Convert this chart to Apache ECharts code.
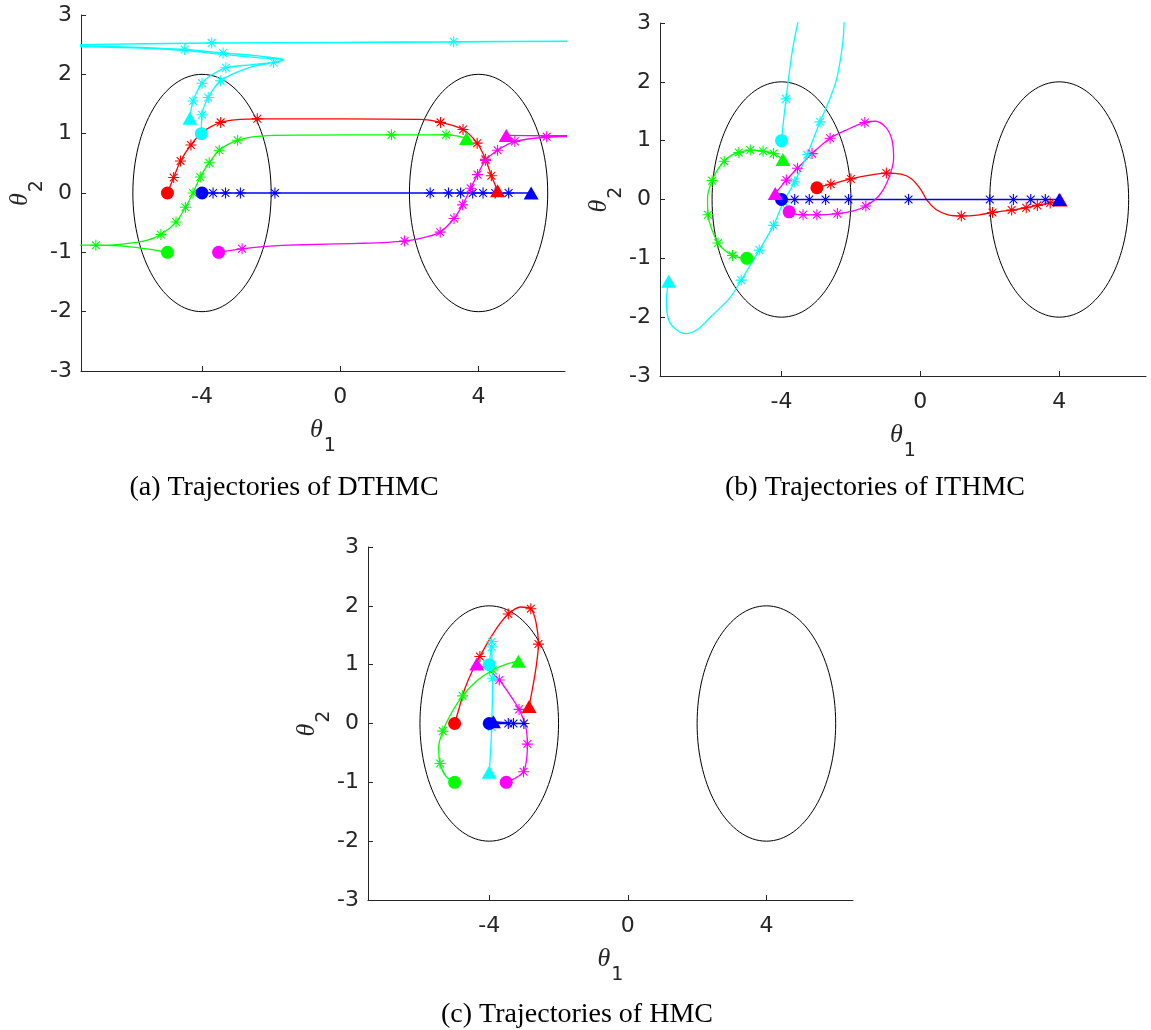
<!DOCTYPE html>
<html>
<head>
<meta charset="utf-8">
<script src="https://cdn.jsdelivr.net/npm/echarts@6/dist/echarts.min.js"></script>
<style>
html,body{margin:0;padding:0;background:#fff;}
#chart{width:1151px;height:1030px;}
</style>
</head>
<body>
<div id="chart"></div>
<script>
// ---------- axes ----------
const X_RANGE = [-7.5, 6.5];
const Y_RANGE = [-3, 3];
const X_TICKS = [-4, 0, 4];
const CAPTIONS = ['(a) Trajectories of DTHMC', '(b) Trajectories of ITHMC', '(c) Trajectories of HMC'];
// two target modes: [centre x, centre y, radius x, radius y]
const MODES = [[-4, 0, 2, 2], [4, 0, 2, 2]];

// ---------- (a) DTHMC ----------
const A_BLUE_PATH = [[-4,0],[5.52,0]];
const A_BLUE_STARS = [[-3.68,0],[-3.32,0],[-2.89,0],[-1.89,0],[2.6,0],[3.13,0],[3.48,0],[3.83,0],[4.13,0],[4.48,0],[4.87,0]];
const A_RED_PATH = [[-5,0],[-4.82,0.26],[-4.62,0.54],[-4.32,0.81],[-4.0,1.02],[-3.46,1.19],[-2.9,1.24],[-2.4,1.25],[0,1.25],[2.3,1.24],[2.9,1.19],[3.55,1.07],[3.96,0.84],[4.2,0.57],[4.37,0.29],[4.55,0.04]];
const A_RED_STARS = [[-4.82,0.26],[-4.62,0.54],[-4.32,0.81],[-3.46,1.19],[-2.4,1.25],[2.9,1.19],[3.55,1.07],[3.96,0.84],[4.2,0.57],[4.37,0.29]];
const A_GREEN_PATH = [[-5,-1],[-5.5,-0.95],[-6.2,-0.9],[-7.07,-0.88],[-8.2,-0.875],[-9,-0.87],[-8.2,-0.878],[-7.07,-0.88],[-6.3,-0.86],[-5.6,-0.8],[-5.19,-0.7],[-4.75,-0.49],[-4.48,-0.24],[-4.26,0],[-4.05,0.27],[-3.79,0.51],[-3.5,0.72],[-2.97,0.89],[-2.3,0.96],[-1,0.975],[1.48,0.98],[3.06,0.98],[3.4,0.96],[3.65,0.92]];
const A_GREEN_STARS = [[-7.07,-0.88],[-5.19,-0.7],[-4.75,-0.49],[-4.48,-0.24],[-4.26,0],[-4.05,0.27],[-3.79,0.51],[-3.5,0.72],[-2.97,0.89],[1.48,0.98],[3.06,0.98]];
const A_MAGENTA_PATH = [[-3.52,-1],[-2.84,-0.94],[-1.5,-0.88],[0.5,-0.85],[1.86,-0.81],[2.5,-0.74],[2.89,-0.66],[3.29,-0.43],[3.54,-0.2],[3.77,0.08],[3.97,0.31],[4.2,0.55],[4.55,0.72],[5.05,0.87],[5.97,0.94],[7.2,0.955],[8.5,0.96],[7.2,0.965],[5.8,0.965],[4.8,0.97]];
const A_MAGENTA_STARS = [[-2.84,-0.94],[1.86,-0.81],[2.89,-0.66],[3.29,-0.43],[3.54,-0.2],[3.77,0.08],[3.97,0.31],[4.2,0.55],[4.55,0.72],[5.05,0.87],[5.97,0.95]];
const A_CYAN_PATH = [[-4.02,1.0],[-4.0,1.32],[-3.82,1.61],[-3.46,1.89],[-2.7,2.1],[-1.93,2.2],[-1.64,2.25],[-2.4,2.31],[-3.39,2.36],[-4.5,2.42],[-6,2.46],[-7.5,2.48],[-9,2.49],[-7.5,2.5],[-3.72,2.53],[0,2.54],[3.28,2.55],[6.5,2.56],[9,2.56],[6.5,2.555],[3.28,2.545],[0,2.535],[-3.72,2.525],[-7.5,2.5],[-9,2.48],[-7.5,2.465],[-6,2.445],[-4.5,2.4],[-3.39,2.335],[-2.4,2.28],[-1.64,2.24],[-1.93,2.2],[-2.6,2.16],[-3.31,2.11],[-3.75,1.98],[-4.0,1.85],[-4.26,1.55],[-4.35,1.26]];
const A_CYAN_STARS = [[-4.0,1.32],[-3.82,1.61],[-3.46,1.89],[-1.93,2.2],[-3.39,2.36],[-4.5,2.42],[-3.72,2.53],[3.28,2.55],[-3.31,2.11],[-4.0,1.85],[-4.26,1.55]];

// ---------- (b) ITHMC ----------
const B_BLUE_PATH = [[-4,0],[4,0]];
const B_BLUE_STARS = [[-3.62,0],[-3.2,0],[-2.73,0],[-2.07,0],[-0.34,0],[2.0,0],[2.68,0],[3.18,0],[3.6,0]];
const B_RED_PATH = [[-2.98,0.2],[-2.58,0.26],[-2.0,0.35],[-1.5,0.41],[-0.98,0.45],[-0.55,0.43],[-0.25,0.35],[0,0.18],[0.2,-0.02],[0.45,-0.17],[0.8,-0.26],[1.18,-0.28],[1.7,-0.26],[2.08,-0.22],[2.63,-0.18],[3.05,-0.14],[3.37,-0.1],[3.74,-0.06],[4.03,-0.01]];
const B_RED_STARS = [[-2.58,0.26],[-2.0,0.35],[-0.98,0.45],[1.18,-0.28],[2.08,-0.22],[2.63,-0.18],[3.05,-0.14],[3.37,-0.1],[3.74,-0.06]];
const B_GREEN_PATH = [[-5,-1],[-5.2,-0.99],[-5.41,-0.95],[-5.65,-0.86],[-5.83,-0.74],[-6.0,-0.52],[-6.12,-0.26],[-6.13,0.04],[-6.0,0.32],[-5.85,0.5],[-5.65,0.65],[-5.45,0.75],[-5.23,0.8],[-4.9,0.84],[-4.53,0.82],[-4.23,0.78],[-3.96,0.68]];
const B_GREEN_STARS = [[-5.41,-0.95],[-5.83,-0.74],[-6.12,-0.26],[-6.0,0.32],[-5.65,0.65],[-5.23,0.8],[-4.9,0.84],[-4.53,0.82],[-4.23,0.78]];
const B_MAGENTA_PATH = [[-3.78,-0.21],[-3.6,-0.25],[-3.38,-0.26],[-2.98,-0.26],[-2.39,-0.24],[-1.9,-0.19],[-1.57,-0.11],[-1.2,0.06],[-0.92,0.35],[-0.77,0.7],[-0.82,1.02],[-1.0,1.23],[-1.3,1.33],[-1.6,1.31],[-2.1,1.19],[-2.6,1.04],[-3.12,0.78],[-3.54,0.53],[-3.86,0.33],[-4.18,0.1]];
const B_MAGENTA_STARS = [[-3.38,-0.26],[-2.98,-0.26],[-2.39,-0.24],[-1.57,-0.11],[-1.6,1.31],[-2.6,1.04],[-3.12,0.78],[-3.54,0.53],[-3.86,0.33]];
const B_CYAN_PATH = [[-4,1],[-3.94,1.35],[-3.87,1.71],[-3.79,2.09],[-3.68,2.55],[-3.53,3.0],[-3.3,3.5],[-2.9,3.85],[-2.45,3.8],[-2.23,3.4],[-2.2,3.0],[-2.26,2.55],[-2.42,2.03],[-2.65,1.65],[-2.89,1.32],[-3.26,0.76],[-3.62,0.3],[-3.94,-0.04],[-4.23,-0.44],[-4.64,-0.86],[-5.16,-1.37],[-5.5,-1.68],[-6.05,-2.0],[-6.4,-2.2],[-6.77,-2.28],[-7.2,-2.11],[-7.32,-1.72],[-7.25,-1.39]];
const B_CYAN_STARS = [[-3.87,1.71],[-2.89,1.32],[-3.26,0.76],[-3.62,0.3],[-3.94,-0.04],[-4.23,-0.44],[-4.64,-0.86],[-5.16,-1.37]];

// ---------- (c) HMC ----------
const C_BLUE_PATH = [[-4,0],[-3.45,0],[-2.92,0],[-3.4,0.01],[-3.88,0.03]];
const C_BLUE_STARS = [[-3.45,0],[-3.3,0],[-3.0,0]];
const C_RED_PATH = [[-5,0],[-4.85,0.3],[-4.7,0.6],[-4.5,0.88],[-4.27,1.14],[-4.02,1.4],[-3.75,1.65],[-3.45,1.86],[-3.1,1.98],[-2.8,1.95],[-2.65,1.72],[-2.58,1.35],[-2.65,0.95],[-2.75,0.6],[-2.85,0.29]];
const C_RED_STARS = [[-4.27,1.14],[-3.45,1.86],[-2.8,1.95],[-2.58,1.35]];
const C_GREEN_PATH = [[-5,-1],[-5.25,-0.9],[-5.42,-0.68],[-5.46,-0.4],[-5.34,-0.13],[-5.1,0.17],[-4.77,0.47],[-4.35,0.73],[-3.9,0.91],[-3.5,1.01],[-3.16,1.06]];
const C_GREEN_STARS = [[-5.42,-0.68],[-5.34,-0.13],[-4.77,0.47],[-3.9,0.91]];
const C_MAGENTA_PATH = [[-3.51,-1],[-3.25,-0.93],[-3.01,-0.82],[-2.92,-0.6],[-2.9,-0.35],[-2.95,-0.05],[-3.14,0.24],[-3.42,0.5],[-3.71,0.74],[-4.0,0.9],[-4.36,1.01]];
const C_MAGENTA_STARS = [[-3.01,-0.82],[-2.9,-0.35],[-3.14,0.24],[-3.71,0.74]];
const C_CYAN_PATH = [[-4,1],[-3.96,1.22],[-3.93,1.38],[-3.93,1.43],[-3.93,1.32],[-3.92,1.05],[-3.9,0.77],[-3.91,0.4],[-3.93,-0.06],[-3.96,-0.45],[-4,-0.83]];
const C_CYAN_STARS = [[-3.93,1.39],[-3.93,1.3],[-3.9,0.77],[-3.93,-0.06]];

// ---------- build ----------
const COLORS = {red:'#ff0000', green:'#00ff00', blue:'#0000ff', magenta:'#ff00ff', cyan:'#00ffff'};
const PANELS = [
  [['red',A_RED_PATH,A_RED_STARS],['green',A_GREEN_PATH,A_GREEN_STARS],['blue',A_BLUE_PATH,A_BLUE_STARS],['magenta',A_MAGENTA_PATH,A_MAGENTA_STARS],['cyan',A_CYAN_PATH,A_CYAN_STARS]],
  [['red',B_RED_PATH,B_RED_STARS],['green',B_GREEN_PATH,B_GREEN_STARS],['blue',B_BLUE_PATH,B_BLUE_STARS],['magenta',B_MAGENTA_PATH,B_MAGENTA_STARS],['cyan',B_CYAN_PATH,B_CYAN_STARS]],
  [['red',C_RED_PATH,C_RED_STARS],['green',C_GREEN_PATH,C_GREEN_STARS],['blue',C_BLUE_PATH,C_BLUE_STARS],['magenta',C_MAGENTA_PATH,C_MAGENTA_STARS],['cyan',C_CYAN_PATH,C_CYAN_STARS]]
];
const GRIDS = [
  {left: 81, top: 15, width: 484, height: 356},
  {left: 660, top: 23, width: 486, height: 353},
  {left: 368, top: 547, width: 485, height: 353}
];
const CAPTION_POS = [[284, 488], [875, 488], [577, 1015]];

const STAR = 'path://M5,0L5,10M0,5L10,5M1.46,1.46L8.54,8.54M8.54,1.46L1.46,8.54';
const AX = '#262626';
const TICK_FONT = 'DejaVu Sans';

function axisName(sub) {
  return {
    name: '{t|θ}{s|' + sub + '}',
    nameTextStyle: {
      rich: {
        t: {fontFamily: 'Liberation Serif', fontStyle: 'italic', fontSize: 26, lineHeight: 26, verticalAlign: 'top', color: AX},
        s: {fontFamily: TICK_FONT, fontSize: 19, lineHeight: 20, padding: [20, 0, 0, 1], verticalAlign: 'top', color: AX}
      }
    }
  };
}

const xAxes = [], yAxes = [], series = [], graphics = [];
GRIDS.forEach((g, i) => {
  xAxes.push(Object.assign({
    type: 'value', gridIndex: i, min: X_RANGE[0], max: X_RANGE[1],
    nameLocation: 'middle', nameGap: 46,
    axisLine: {show: true, onZero: false, lineStyle: {color: AX, width: 1}},
    axisTick: {show: true, inside: true, length: 5, customValues: X_TICKS, lineStyle: {color: AX}},
    axisLabel: {customValues: X_TICKS, margin: 15, fontFamily: TICK_FONT, fontSize: 22, color: AX},
    splitLine: {show: false}
  }, axisName('1')));
  yAxes.push(Object.assign({
    type: 'value', gridIndex: i, min: Y_RANGE[0], max: Y_RANGE[1], interval: 1,
    nameLocation: 'middle', nameGap: 21, nameRotate: 90,
    axisLine: {show: true, onZero: false, lineStyle: {color: AX, width: 1}},
    axisTick: {show: true, inside: true, length: 5, lineStyle: {color: AX}},
    axisLabel: {margin: 9, fontFamily: TICK_FONT, fontSize: 22, color: AX},
    splitLine: {show: false}
  }, axisName('2')));

  series.push({
    type: 'custom', xAxisIndex: i, yAxisIndex: i, data: MODES, silent: true, z: 1,
    encode: {x: 0, y: 1},
    renderItem: function (params, api) {
      const c = api.coord([api.value(0), api.value(1)]);
      const s = api.size([api.value(2), api.value(3)]);
      return {type: 'ellipse', shape: {cx: c[0], cy: c[1], rx: s[0], ry: s[1]},
              style: {fill: 'none', stroke: '#000', lineWidth: 1}};
    }
  });

  PANELS[i].forEach(([name, path, stars]) => {
    const col = COLORS[name];
    series.push({type: 'line', xAxisIndex: i, yAxisIndex: i, data: path, smooth: 0.3,
      showSymbol: false, symbol: 'none', clip: true, silent: true, z: 2,
      lineStyle: {color: col, width: 1.3, opacity: 1}});
    series.push({type: 'scatter', xAxisIndex: i, yAxisIndex: i, data: stars, symbol: STAR,
      symbolSize: 11, clip: true, silent: true, z: 3,
      itemStyle: {color: col, borderColor: col, borderWidth: 1.1, opacity: 1}});
    series.push({type: 'scatter', xAxisIndex: i, yAxisIndex: i, data: [path[0]], symbol: 'circle',
      symbolSize: 13, silent: true, z: 4, itemStyle: {color: col, opacity: 1}});
    series.push({type: 'scatter', xAxisIndex: i, yAxisIndex: i, data: [path[path.length - 1]], symbol: 'triangle',
      symbolSize: [15, 13], silent: true, z: 4, itemStyle: {color: col, opacity: 1}});
  });

  graphics.push({type: 'text', x: CAPTION_POS[i][0], y: CAPTION_POS[i][1], silent: true,
    style: {text: CAPTIONS[i], fontFamily: 'Liberation Serif', fontSize: 28, fill: '#000',
            align: 'center', verticalAlign: 'middle', textAlign: 'center', textVerticalAlign: 'middle'}});
});

const chart = echarts.init(document.getElementById('chart'), null, {renderer: 'canvas'});
chart.setOption({
  animation: false,
  backgroundColor: '#fff',
  grid: GRIDS.map(g => Object.assign({containLabel: false}, g)),
  xAxis: xAxes,
  yAxis: yAxes,
  series: series,
  graphic: graphics
});
</script>
</body>
</html>
